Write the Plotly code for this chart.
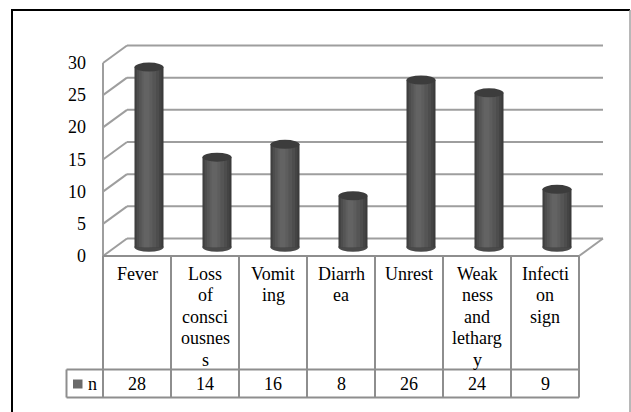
import plotly.graph_objects as go

# ---- data ----
categories = ["Fever", "Loss of consciousness", "Vomiting", "Diarrhea",
              "Unrest", "Weakness and lethargy", "Infection sign"]
label_lines = [["Fever"], ["Loss", "of", "consci", "ousnes", "s"], ["Vomit", "ing"],
               ["Diarrh", "ea"], ["Unrest"], ["Weak", "ness", "and", "letharg", "y"],
               ["Infecti", "on", "sign"]]
values = [28, 14, 16, 8, 26, 24, 9]
series_name = "n"
y_ticks = [0, 5, 10, 15, 20, 25, 30]

# ---- geometry (pixel scale of the canvas) ----
W, H = 631, 412
COL_PX = 68.0            # width of one category column
LEFT_PX = 103.0          # left edge of the front plane
FLOOR_PX = 256.0         # front floor line
UNIT_PX = 193.0 / 30.0   # pixels per value unit
DEPTH_DX_PX, DEPTH_DY_PX = 24.0, 17.5


def xu(px):
    return -0.5 + (px - LEFT_PX) / COL_PX


def yu(py):
    return (FLOOR_PX - py) / UNIT_PX


def wx(px):
    return px / COL_PX


def hy(px):
    return px / UNIT_PX


n = len(values)
ymax = y_ticks[-1]
dx, dy = wx(DEPTH_DX_PX), hy(DEPTH_DY_PX)
idx = list(range(n))

GRID = "#9e9e9e"
TABLE = "#8e8e8e"
FONT = dict(family="Liberation Serif, Times New Roman, serif", size=18, color="#000000")

fig = go.Figure()

# cylinder bodies: overlaid bars of narrowing width give the round shading
cyl_w = 29.0
cx = [i + dx / 2 for i in idx]
base = dy / 2
layers = [(29.0, 0.0, "#3b3b3b"), (26.0, -0.5, "#444444"), (22.0, -1.0, "#4d4d4d"),
          (17.0, -1.5, "#555555"), (11.0, -2.0, "#5d5d5d"), (6.0, -2.5, "#636363")]
for w, shift, col in layers:
    fig.add_trace(go.Bar(
        x=[c + wx(shift) for c in cx], y=values, base=base, width=wx(w),
        marker=dict(color=col, line=dict(width=0)), showlegend=False,
        hoverinfo="skip"))

shapes = []
# back wall gridlines and side-wall slants
for t in y_ticks:
    shapes.append(dict(type="line", xref="x", yref="y", layer="below",
                       x0=-0.5 + dx, x1=n - 0.5 + dx, y0=t + dy, y1=t + dy,
                       line=dict(color=GRID, width=2)))
    shapes.append(dict(type="line", xref="x", yref="y", layer="below",
                       x0=-0.5, x1=-0.5 + dx, y0=t, y1=t + dy,
                       line=dict(color=GRID, width=2)))
# front-left edge of the side wall
shapes.append(dict(type="line", xref="x", yref="y", layer="below",
                   x0=-0.5, x1=-0.5, y0=0, y1=ymax, line=dict(color=GRID, width=2)))
# right edge of the floor
shapes.append(dict(type="line", xref="x", yref="y", layer="below",
                   x0=n - 0.5, x1=n - 0.5 + dx, y0=0, y1=dy,
                   line=dict(color=GRID, width=2)))

# cylinder bottoms (behind bars) and tops (in front)
ry = hy(4.5)
for c, v in zip(cx, values):
    shapes.append(dict(type="circle", xref="x", yref="y", layer="below",
                       x0=c - wx(cyl_w) / 2, x1=c + wx(cyl_w) / 2,
                       y0=base - ry, y1=base + ry,
                       fillcolor="#4a4a4a", line=dict(width=0)))
    shapes.append(dict(type="circle", xref="x", yref="y", layer="above",
                       x0=c - wx(cyl_w) / 2, x1=c + wx(cyl_w) / 2,
                       y0=base + v - ry, y1=base + v + ry,
                       fillcolor="#3c3c3c", line=dict(width=0)))

# data table
row1_bottom = yu(369.5)
row2_bottom = yu(397.5)
legend_left = xu(66.5)
for k in range(n + 1):
    shapes.append(dict(type="line", xref="x", yref="y", layer="above",
                       x0=-0.5 + k, x1=-0.5 + k, y0=0, y1=row2_bottom,
                       line=dict(color=TABLE, width=2)))
shapes.append(dict(type="line", xref="x", yref="y", layer="above",
                   x0=-0.5, x1=n - 0.5, y0=0, y1=0, line=dict(color=TABLE, width=2)))
for yy in (row1_bottom, row2_bottom):
    shapes.append(dict(type="line", xref="x", yref="y", layer="above",
                       x0=legend_left, x1=n - 0.5, y0=yy, y1=yy,
                       line=dict(color=TABLE, width=2)))
shapes.append(dict(type="line", xref="x", yref="y", layer="above",
                   x0=legend_left, x1=legend_left, y0=row1_bottom, y1=row2_bottom,
                   line=dict(color=TABLE, width=2)))
# legend key
shapes.append(dict(type="rect", xref="x", yref="y", layer="above",
                   x0=xu(73), x1=xu(82.5), y0=yu(388.5), y1=yu(379.5),
                   fillcolor="#6a6a6a", line=dict(width=0)))

# outer frame
shapes.append(dict(type="line", xref="paper", yref="paper", x0=12 / W, x1=12 / W,
                   y0=0, y1=1 - 10 / H, line=dict(color="#000000", width=2)))
shapes.append(dict(type="line", xref="paper", yref="paper", x0=11 / W, x1=630 / W,
                   y0=1 - 10 / H, y1=1 - 10 / H, line=dict(color="#000000", width=2)))
shapes.append(dict(type="line", xref="paper", yref="paper", x0=630 / W, x1=630 / W,
                   y0=0, y1=1 - 10 / H, line=dict(color="#a0a0a0", width=1.5)))

annotations = []
# value-axis labels
for t in y_ticks:
    annotations.append(dict(x=xu(88), y=t, xref="x", yref="y", text=str(t),
                            showarrow=False, xanchor="right", yanchor="middle", font=FONT))
# category rows, one annotation per wrapped line
for i, lines in enumerate(label_lines):
    for j, line in enumerate(lines):
        annotations.append(dict(x=i, y=yu(273.5 + 21.5 * j), xref="x", yref="y",
                                text=line, showarrow=False, xanchor="center",
                                yanchor="middle", font=FONT))
# value row
for i, v in enumerate(values):
    annotations.append(dict(x=i, y=yu(384), xref="x", yref="y", text=str(v),
                            showarrow=False, xanchor="center", yanchor="middle", font=FONT))
annotations.append(dict(x=xu(86), y=yu(384), xref="x", yref="y", text=series_name,
                        showarrow=False, xanchor="left", yanchor="middle", font=FONT))

fig.update_layout(
    width=W, height=H, margin=dict(l=0, r=0, t=0, b=0),
    paper_bgcolor="#ffffff", plot_bgcolor="#ffffff",
    barmode="overlay", showlegend=False,
    xaxis=dict(range=[xu(0), xu(W)], visible=False, fixedrange=True),
    yaxis=dict(range=[yu(H), yu(0)], visible=False, fixedrange=True),
    shapes=shapes, annotations=annotations,
)

fig.write_html("out.html")
